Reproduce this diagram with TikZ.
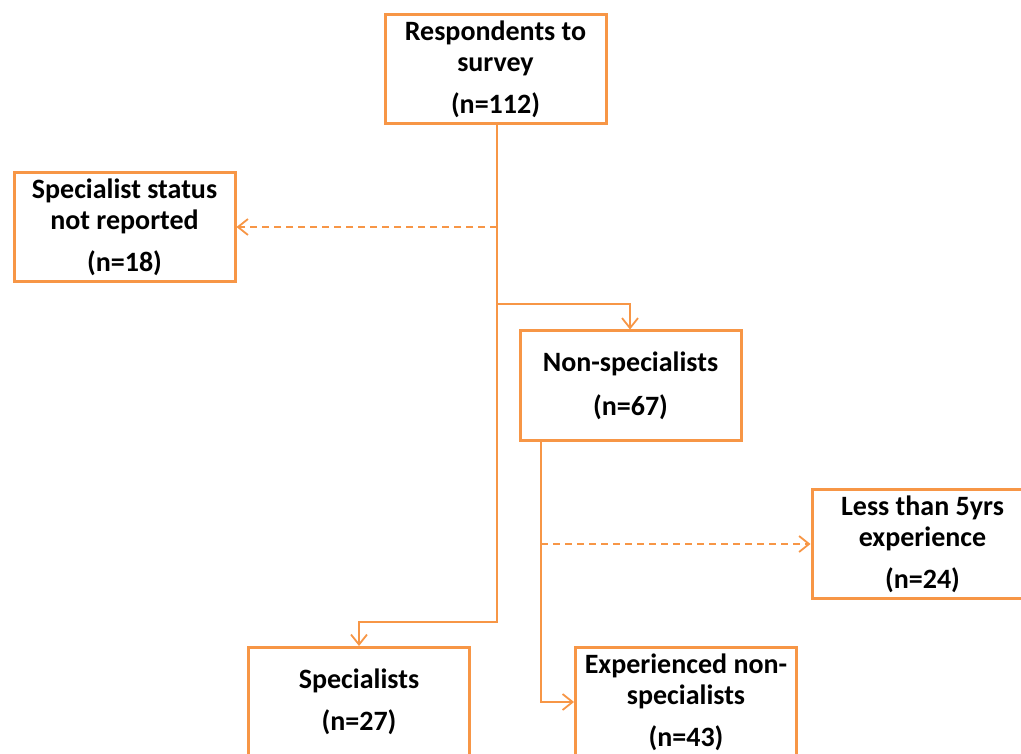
\documentclass[tikz,border=0pt]{standalone}
\usepackage{fontspec}
\setmainfont{Carlito}
\usetikzlibrary{arrows.meta}
\definecolor{orng}{HTML}{F79646}
\tikzset{
  box/.style={draw=orng, line width=3pt, fill=white, minimum width=221pt, minimum height=109pt,
    inner sep=0pt, align=center, font=\fontsize{28}{31}\selectfont\bfseries},
  conn/.style={draw=orng, line width=2pt, -{Straight Barb[length=10pt,width=16pt,line width=1.8pt]}},
  dconn/.style={conn, dash pattern=on 7pt off 5pt},
}
\begin{document}
\begin{tikzpicture}[x=1pt,y=-1pt]
\useasboundingbox (0,0) rectangle (1021,754);
\clip (0,0) rectangle (1021,754);
\node[box] (top) at (495.5,69) {Respondents to\\survey\\[11pt](n=112)};
\node[box] (left) at (124.5,227) {Specialist status\\not reported\\[11pt](n=18)};
\node[box] (nons) at (630.5,385.5) {Non-specialists\\[13pt](n=67)};
\node[box] (less) at (922.5,544) {Less than 5yrs\\experience\\[11pt](n=24)};
\node[box] (spec) at (359,702) {Specialists\\[11pt](n=27)};
\node[box] (exp) at (686,702) {Experienced non-\\specialists\\[11pt](n=43)};
\coordinate (jM) at (497,0);
\coordinate (jA) at (0,622);
\coordinate (jB) at (0,304);
\coordinate (jC) at (541,0);
\coordinate (jD) at (630,0);
\draw[conn] (top.south -| jM) -- (jM |- jA) -| (spec.north);
\draw[dconn] (jM |- left.east) -- (left.east);
\draw[conn] (jM |- jB) -| (nons.north -| jD);
\draw[conn] (nons.south -| jC) |- (exp.west);
\draw[dconn] (jC |- less.west) -- (less.west);
\end{tikzpicture}
\end{document}
